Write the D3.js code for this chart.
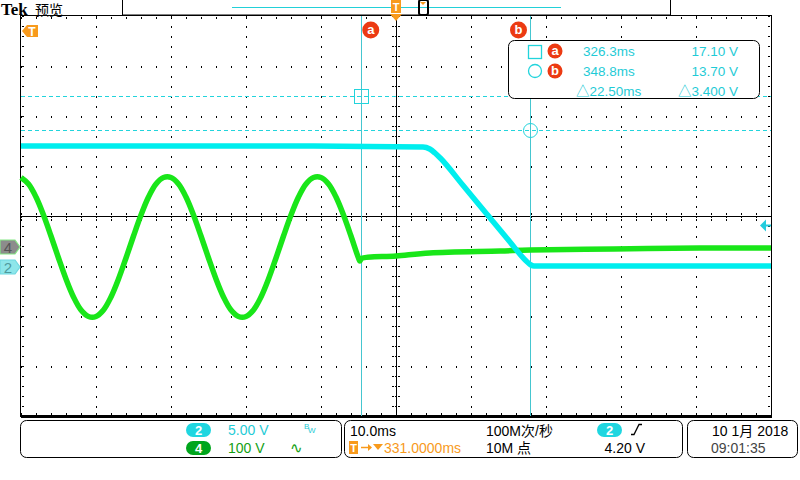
<!DOCTYPE html>
<html><head><meta charset="utf-8">
<script src="https://cdn.jsdelivr.net/npm/d3@7"></script>
<style>body{margin:0;background:#fff}svg{display:block}</style>
</head><body><svg id="c" width="800" height="480"></svg>
<script>
// ---- data ----
const timeDomain = [281, 381];           // ms, 10 ms/div, centre = 331 ms
const ch2Times = [281, 300, 320, 334.6, 335.5, 336.2, 336.9, 339.9, 343.1, 346.2, 348.5, 349.0, 349.4, 360, 381];
const ch2Volts = [12.1, 12.1, 12.1, 12.0, 11.8, 11.4, 10.9, 8.2, 5.3, 2.5, 0.5, 0.2, 0.1, 0.1, 0.1];
const ch4Times = [281,282,283,284,285,286,287,288,289,290,291,292,293,294,295,296,297,298,299,300,
                  301,302,303,304,305,306,307,308,309,310,311,312,313,314,315,316,317,318,319,320,
                  321,322,323,324,325,326,326.2,326.4,331,335.5,344.9,348.9,360,371.5,381];
const ch4Volts = [139,126,100,64,22,-22,-64,-100,-126,-139,-139,-126,-100,-64,-22,22,64,100,126,139,
                  139,126,100,64,22,-22,-64,-100,-126,-139,-139,-126,-100,-64,-22,22,64,100,126,139,
                  139,126,100,64,22,-22,-28,-23,-18,-12,-8,-6,-4,-2,-2];
const cursorTimes = [326.3, 348.8];
const cursorVolts = [17.10, 13.70];
const cursorLabels = ["a", "b"];
const readTimes = ["326.3ms", "348.8ms", "△22.50ms"];
const readVolts = ["17.10 V", "13.70 V", "△3.400 V"];
const chLabels = ["2", "4"];
const chScales = ["5.00 V", "100 V"];
const timebase = "10.0ms";
const trigPos = "331.0000ms";
const sampleRate = "100M次/秒";
const recLen = "10M 点";
const trigLevel = 4.20;
const dateStr = "10 1月 2018";
const timeStr = "09:01:35";

// ---- geometry ----
const L = 21, R = 771, T = 16, B = 416;
const CYAN = "#00eeee", CY_TXT = "#1fcbd6", GREEN = "#19e619", ORANGE = "#f89a1c", RED = "#ec3a12";
const FONT = "'Liberation Sans', 'Noto Sans CJK SC', sans-serif";

const svg = d3.select("#c");
const x = d3.scaleLinear().domain(timeDomain).range([L, R]);
const gy = d3.scaleLinear().domain([-4, 4]).range([B, T]);        // divisions
const y2 = d3.scaleLinear().domain([0, 5]).range([267, 217]);      // ch2 5 V/div
const y4 = d3.scaleLinear().domain([0, 100]).range([247, 197]);    // ch4 100 V/div

// ---- top bar ----
const topBar = svg.append("g");
topBar.append("text").attr("x", 1).attr("y", 15).attr("font-family", "'Liberation Serif', serif")
  .attr("font-weight", "bold").attr("font-size", 17).text("Tek");
topBar.append("text").attr("x", 35).attr("y", 15).attr("font-family", "'Noto Sans CJK SC'")
  .attr("font-size", 14).text("预览");
topBar.append("rect").attr("x", 122.5).attr("y", -1).attr("width", 548).attr("height", 16)
  .attr("fill", "#fff").attr("stroke", "#000");
topBar.append("line").attr("x1", 232).attr("x2", 561).attr("y1", 7.5).attr("y2", 7.5)
  .attr("stroke", "#22d0d8").attr("stroke-width", 1);
topBar.append("rect").attr("x", 419).attr("y", 0).attr("width", 9).attr("height", 15).attr("rx", 2)
  .attr("fill", "none").attr("stroke", "#000").attr("stroke-width", 2);
topBar.append("polygon").attr("points", "420,2 426,2 423,5").attr("fill", ORANGE);

// ---- graticule ----
const grid = svg.append("g").attr("shape-rendering", "crispEdges");
const divX = d3.range(291, 381, 10).filter(t => t !== 331);
const divY = d3.range(-3, 4, 1).filter(v => v !== 0);
const subY = d3.range(-4, 4.001, 0.2);
const subX = d3.range(281, 381.001, 2);
divX.forEach(t => {
  subY.forEach(v => grid.append("rect").attr("x", Math.round(x(t))).attr("y", Math.round(gy(v)))
    .attr("width", 1).attr("height", 2).attr("fill", "#000"));
});
divY.forEach(v => {
  subX.forEach(t => grid.append("rect").attr("x", Math.round(x(t))).attr("y", Math.round(gy(v)))
    .attr("width", 1).attr("height", 2).attr("fill", "#000"));
});
// border ticks
subX.forEach(t => {
  grid.append("rect").attr("x", Math.round(x(t))).attr("y", T + 1).attr("width", 1).attr("height", 2).attr("fill", "#000");
  grid.append("rect").attr("x", Math.round(x(t))).attr("y", B - 3).attr("width", 1).attr("height", 2).attr("fill", "#000");
  grid.append("line").attr("x1", Math.round(x(t)) + 0.5).attr("x2", Math.round(x(t)) + 0.5)
    .attr("y1", 213).attr("y2", 221).attr("stroke", "#000").attr("stroke-dasharray", "2,1");
});
subY.forEach(v => {
  grid.append("rect").attr("x", L + 1).attr("y", Math.round(gy(v))).attr("width", 2).attr("height", 1).attr("fill", "#000");
  grid.append("rect").attr("x", R - 3).attr("y", Math.round(gy(v))).attr("width", 2).attr("height", 1).attr("fill", "#000");
  grid.append("line").attr("y1", Math.round(gy(v)) + 0.5).attr("y2", Math.round(gy(v)) + 0.5)
    .attr("x1", 392).attr("x2", 401).attr("stroke", "#000").attr("stroke-dasharray", "2,1");
});
grid.append("line").attr("x1", L).attr("x2", R).attr("y1", gy(0) + 0.5).attr("y2", gy(0) + 0.5).attr("stroke", "#000").attr("stroke-width", 1.5);
grid.append("line").attr("x1", x(331) + 0.5).attr("x2", x(331) + 0.5).attr("y1", T).attr("y2", B).attr("stroke", "#000").attr("stroke-width", 1.5);
grid.append("rect").attr("x", L - 0.5).attr("y", T - 0.5).attr("width", R - L + 1).attr("height", B - T + 1)
  .attr("fill", "none").attr("stroke", "#000");
grid.append("line").attr("x1", L).attr("x2", R + 1).attr("y1", B + 0.5).attr("y2", B + 0.5).attr("stroke", "#000").attr("stroke-width", 2.5);

// ---- cursors ----
const cur = svg.append("g");
cursorTimes.forEach(t => cur.append("line").attr("x1", Math.round(x(t)) + 0.5).attr("x2", Math.round(x(t)) + 0.5)
  .attr("y1", T).attr("y2", B).attr("stroke", "#45c6d0").attr("stroke-width", 1));
cursorVolts.forEach(v => cur.append("line").attr("x1", L).attr("x2", R).attr("y1", Math.round(y2(v)) + 0.5).attr("y2", Math.round(y2(v)) + 0.5)
  .attr("stroke", "#22d4dc").attr("stroke-width", 1).attr("stroke-dasharray", "4,3"));

// ---- traces ----
const line4 = d3.line().x((d, i) => x(ch4Times[i])).y(d => y4(d)).curve(d3.curveCatmullRom.alpha(0.5));
svg.append("path").attr("d", line4(ch4Volts)).attr("fill", "none").attr("stroke", GREEN)
  .attr("stroke-width", 5.5).attr("stroke-linejoin", "round");
const line2 = d3.line().x((d, i) => x(ch2Times[i])).y(d => y2(d)).curve(d3.curveMonotoneX);
svg.append("path").attr("d", line2(ch2Volts)).attr("fill", "none").attr("stroke", CYAN)
  .attr("stroke-width", 5.5).attr("stroke-linejoin", "round");

// cursor markers
cur.append("rect").attr("x", Math.round(x(cursorTimes[0])) - 6.5).attr("y", Math.round(y2(cursorVolts[0])) - 6.5)
  .attr("width", 14).attr("height", 14).attr("fill", "none").attr("stroke", "#22d4dc");
cur.append("circle").attr("cx", Math.round(x(cursorTimes[1])) + 0.5).attr("cy", Math.round(y2(cursorVolts[1])) + 0.5)
  .attr("r", 7).attr("fill", "none").attr("stroke", "#22d4dc");

function badge(g, cx, cy, r, letter) {
  g.append("circle").attr("cx", cx).attr("cy", cy).attr("r", r).attr("fill", RED);
  g.append("text").attr("x", cx).attr("y", cy + 4).attr("text-anchor", "middle").attr("fill", "#fff")
    .attr("font-family", FONT).attr("font-weight", "bold").attr("font-size", 13).text(letter);
}
badge(svg, x(cursorTimes[0]) + 10, 30, 8.5, cursorLabels[0]);
badge(svg, x(cursorTimes[1]) - 11, 30, 8.5, cursorLabels[1]);

// ---- readout box ----
const rb = svg.append("g");
rb.append("rect").attr("x", 508.5).attr("y", 40.5).attr("width", 251).attr("height", 58).attr("rx", 6)
  .attr("fill", "#fff").attr("stroke", "#000");
rb.append("rect").attr("x", 528.5).attr("y", 45.5).attr("width", 13).attr("height", 13).attr("fill", "none").attr("stroke", "#22d4dc").attr("stroke-width", 1.3);
rb.append("circle").attr("cx", 535).attr("cy", 71).attr("r", 6.5).attr("fill", "none").attr("stroke", "#22d4dc").attr("stroke-width", 1.3);
badge(rb, 555, 51, 7.5, cursorLabels[0]);
badge(rb, 555, 71, 7.5, cursorLabels[1]);
const rowY = [56, 76, 96];
readTimes.forEach((s, i) => rb.append("text").attr("x", i < 2 ? 583 : 576).attr("y", rowY[i]).attr("fill", CY_TXT)
  .attr("font-family", FONT).attr("font-size", 13.5).text(s));
readVolts.forEach((s, i) => rb.append("text").attr("x", 738).attr("y", rowY[i]).attr("text-anchor", "end").attr("fill", CY_TXT)
  .attr("font-family", FONT).attr("font-size", 13.5).text(s));

// ---- markers ----
svg.append("rect").attr("x", x(331) - 5).attr("y", 0).attr("width", 10).attr("height", 13).attr("fill", ORANGE);
svg.append("text").attr("x", x(331)).attr("y", 11).attr("text-anchor", "middle").attr("fill", "#fff")
  .attr("font-family", FONT).attr("font-weight", "bold").attr("font-size", 11).text("T");
svg.append("polygon").attr("points", `${x(331) - 6},14 ${x(331) + 6},14 ${x(331)},21`).attr("fill", ORANGE);
svg.append("polygon").attr("points", "22,31 27,25 38,25 38,37 27,37").attr("fill", ORANGE);
svg.append("text").attr("x", 32).attr("y", 35.5).attr("text-anchor", "middle").attr("fill", "#fff")
  .attr("font-family", FONT).attr("font-weight", "bold").attr("font-size", 12).text("T");
function chMarker(yc, fill, stroke, txtFill, label) {
  svg.append("polygon").attr("points", `0,${yc - 7} 15,${yc - 7} 20,${yc} 15,${yc + 7} 0,${yc + 7}`)
    .attr("fill", fill).attr("stroke", stroke).attr("stroke-width", 1.2);
  svg.append("text").attr("x", 8).attr("y", yc + 5.5).attr("text-anchor", "middle").attr("fill", txtFill)
    .attr("font-family", FONT).attr("font-size", 15).text(label);
}
chMarker(y4(0), "#8c8c8c", "#86e886", "#555", chLabels[1]);
chMarker(y2(0), "#8ee6ea", "#6fd8e0", "#4f9a9e", chLabels[0]);
const ty = Math.round(y2(trigLevel)) + 0.5;
svg.append("polygon").attr("points", `760,${ty} 766,${ty - 6} 766,${ty + 6}`).attr("fill", "#22ccdd");
svg.append("line").attr("x1", 765).attr("x2", 771).attr("y1", ty).attr("y2", ty).attr("stroke", "#22ccdd").attr("stroke-width", 2);

// ---- bottom panels ----
const bp = svg.append("g").attr("font-family", FONT).attr("font-size", 14);
[[20.5, 321], [344.5, 338], [687.5, 110]].forEach(([bx, bw]) =>
  bp.append("rect").attr("x", bx).attr("y", 420.5).attr("width", bw).attr("height", 37).attr("rx", 6)
    .attr("fill", "#fff").attr("stroke", "#000"));
function pill(px, py, fill, label) {
  bp.append("rect").attr("x", px).attr("y", py).attr("width", 25).attr("height", 14).attr("rx", 7).attr("fill", fill);
  bp.append("text").attr("x", px + 12.5).attr("y", py + 11.5).attr("text-anchor", "middle").attr("fill", "#fff")
    .attr("font-weight", "bold").attr("font-size", 13).text(label);
}
pill(186, 423, "#1fd6e0", chLabels[0]);
pill(186, 441, "#00a51c", chLabels[1]);
bp.append("text").attr("x", 228).attr("y", 435).attr("fill", CY_TXT).text(chScales[0]);
bp.append("text").attr("x", 228).attr("y", 453).attr("fill", "#14a014").text(chScales[1]);
bp.append("text").attr("x", 304).attr("y", 429).attr("fill", CY_TXT).attr("font-size", 8).text("B");
bp.append("text").attr("x", 308).attr("y", 433).attr("fill", CY_TXT).attr("font-size", 8).text("W");
bp.append("text").attr("x", 290).attr("y", 453).attr("fill", "#14a014").attr("font-size", 15).text("∿");

bp.append("text").attr("x", 350).attr("y", 436).attr("fill", "#000").text(timebase);
bp.append("rect").attr("x", 349).attr("y", 441).attr("width", 9).attr("height", 13).attr("fill", ORANGE);
bp.append("text").attr("x", 353.5).attr("y", 452).attr("text-anchor", "middle").attr("fill", "#fff")
  .attr("font-weight", "bold").attr("font-size", 11).text("T");
bp.append("line").attr("x1", 361).attr("x2", 370).attr("y1", 447.5).attr("y2", 447.5).attr("stroke", ORANGE).attr("stroke-width", 1.5);
bp.append("polygon").attr("points", "368,444 372,447.5 368,451").attr("fill", ORANGE);
bp.append("polygon").attr("points", "373,444 383,444 378,450").attr("fill", ORANGE);
bp.append("text").attr("x", 384).attr("y", 453).attr("fill", ORANGE).text(trigPos);
bp.append("text").attr("x", 486).attr("y", 436).attr("fill", "#000").text(sampleRate);
bp.append("text").attr("x", 486).attr("y", 453).attr("fill", "#000").text(recLen);
pill(597, 423, "#1fd6e0", chLabels[0]);
bp.append("path").attr("d", "M631,434.5 L634,434.5 L639,424.5 L642,424.5").attr("fill", "none").attr("stroke", "#000").attr("stroke-width", 1.3);
bp.append("text").attr("x", 645).attr("y", 453).attr("text-anchor", "end").attr("fill", "#000").text(trigLevel.toFixed(2) + " V");
bp.append("text").attr("x", 712).attr("y", 436).attr("fill", "#000").text(dateStr);
bp.append("text").attr("x", 711).attr("y", 453).attr("fill", "#444").text(timeStr);
</script></body></html>
